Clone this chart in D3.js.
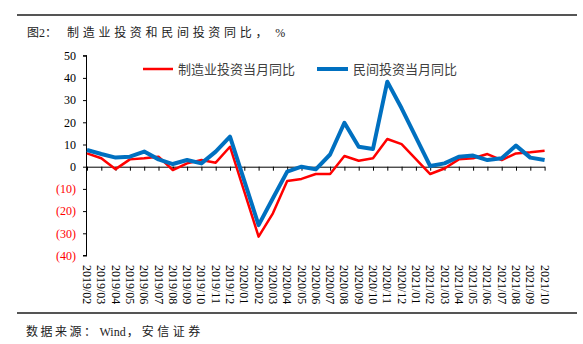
<!DOCTYPE html>
<html><head><meta charset="utf-8">
<script src="https://cdn.jsdelivr.net/npm/d3@7"></script>
<style>body{margin:0;background:#fff}svg{display:block}</style>
</head><body>
<svg id="c" width="583" height="344"></svg>
<script>
const categories = ["2019/02","2019/03","2019/04","2019/05","2019/06","2019/07","2019/08","2019/09","2019/10","2019/11","2019/12",
"2020/01","2020/02","2020/03","2020/04","2020/05","2020/06","2020/07","2020/08","2020/09","2020/10","2020/11","2020/12",
"2021/01","2021/02","2021/03","2021/04","2021/05","2021/06","2021/07","2021/08","2021/09","2021/10"];
const manufacturing = [6.0,3.8,-1.1,3.3,3.8,4.5,-1.5,1.5,3.0,1.8,9.0,null,-31.5,-21.0,-6.4,-5.5,-3.3,-3.3,4.8,2.7,3.8,12.5,10.2,null,-3.3,-0.8,3.3,3.8,5.7,3.0,6.0,6.5,7.2];
const privateInv = [7.5,5.7,4.1,4.5,6.8,3.3,1.2,3.0,1.5,6.8,13.5,null,-26.3,-14.2,-2.2,0.0,-1.2,5.5,19.8,9.0,8.0,38.3,26.3,null,0.3,1.5,4.5,5.0,3.0,3.8,9.5,4.1,3.0];
const yTicks = [50,40,30,20,10,0,-10,-20,-30,-40];
const seriesNames = ["制造业投资当月同比","民间投资当月同比"];
const colors = ["#FF0000","#0070C0"];
const titleParts = [["图",0,0],["2",0,0],["：",0,0],["制造业投资和民间投资同比，",3.7,10],["%",0,4]];
const sourceParts = [["数据来源：",2.5,0],["Wind",0,1],["，",3,1],["安信证券",3.5,0]];

const svg = d3.select("#c");
const x = d3.scalePoint().domain(categories).range([87, 544.6]);
const y = d3.scaleLinear().domain([-40,50]).range([255.5, 55.7]);

// rules
svg.append("line").attr("x1",17).attr("x2",577).attr("y1",15).attr("y2",15).attr("stroke","#555").attr("stroke-width",2);
svg.append("line").attr("x1",17).attr("x2",577).attr("y1",313).attr("y2",313).attr("stroke","#555").attr("stroke-width",2);

function partsText(parts, px, py, size){
  const t = svg.append("text").attr("x",px).attr("y",py)
    .attr("font-family","'Liberation Serif','Noto Sans CJK SC'").attr("font-size",size).attr("fill","#222");
  parts.forEach(p => t.append("tspan").attr("dx",p[2]).attr("letter-spacing",p[1]+"px").text(p[0]));
}
partsText(titleParts, 27, 37, 12);
partsText(sourceParts, 26, 336, 12);

// y axis
const yAxis = d3.axisLeft(y).tickValues(yTicks).tickSize(4).tickPadding(7)
  .tickFormat(d => d < 0 ? "(" + (-d) + ")" : String(d));
const gy = svg.append("g").attr("transform","translate(87,0)").call(yAxis);
gy.select(".domain").attr("stroke","#000").attr("d","M-0.5,"+y(50)+"V"+y(-40)+"M-4,"+y(50)+"H0M-4,"+y(-40)+"H0");
gy.selectAll(".tick line").attr("stroke","#000");
gy.selectAll(".tick text").attr("font-family","'Liberation Serif'").attr("font-size",12)
  .attr("fill", d => d < 0 ? "#FF0000" : "#000");

// x axis at zero
const xAxis = d3.axisBottom(x).tickSize(4).tickFormat("");
const gx = svg.append("g").attr("transform","translate(0,"+y(0)+")").call(xAxis);
gx.select(".domain").attr("stroke","#000").attr("d","M87,0.5H545");
gx.selectAll(".tick line").attr("stroke","#000");

// x labels at bottom
svg.append("g").selectAll("text").data(categories).join("text")
  .attr("transform", d => "translate(" + x(d) + ",265) rotate(90)")
  .attr("dy","0.33em").attr("font-family","'Liberation Serif'").attr("font-size",12).attr("fill","#000")
  .text(d => d);

// lines
const line = d3.line().x(d => x(d.c)).y(d => y(d.v)).curve(d3.curveLinear);
[manufacturing, privateInv].forEach((vals, i) => {
  const pts = categories.map((c, j) => ({c, v: vals[j]})).filter(p => p.v !== null);
  svg.append("path").datum(pts).attr("d", line).attr("fill","none")
    .attr("stroke", colors[i]).attr("stroke-width", i === 0 ? 2.5 : 4)
    .attr("stroke-linejoin","round").attr("stroke-linecap","butt");
});

// legend
const lg = [{x1:143,x2:173,tx:178},{x1:317,x2:348,tx:353}];
lg.forEach((l, i) => {
  svg.append("line").attr("x1",l.x1).attr("x2",l.x2).attr("y1",69).attr("y2",69)
    .attr("stroke",colors[i]).attr("stroke-width", i === 0 ? 2.5 : 4);
  svg.append("text").attr("x",l.tx).attr("y",73.5).text(seriesNames[i])
    .attr("font-family","'Noto Sans CJK SC'").attr("font-size",13).attr("fill","#404040");
});
</script>
</body></html>
